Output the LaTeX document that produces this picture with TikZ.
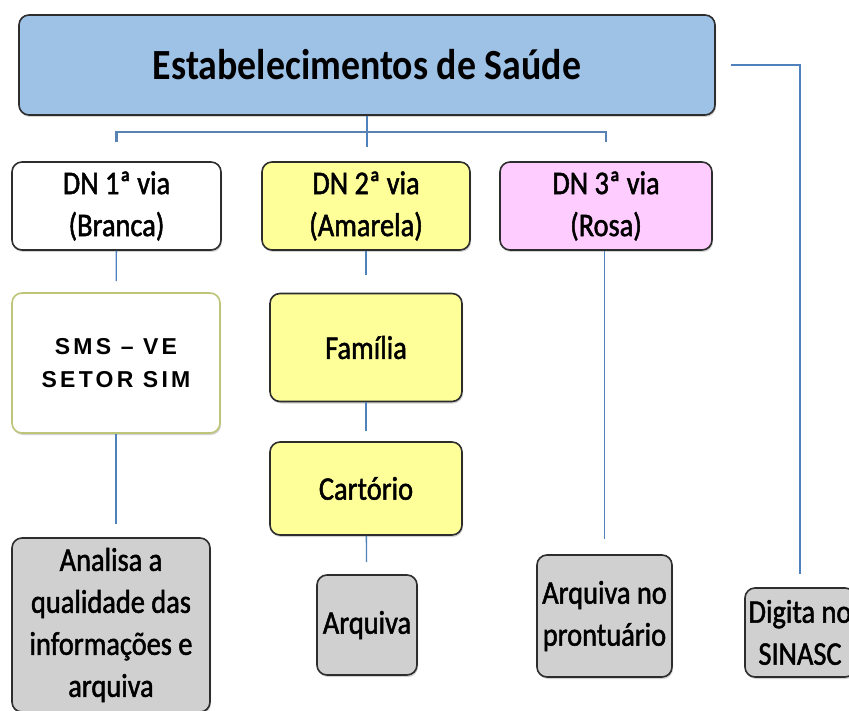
\documentclass[tikz,border=0pt]{standalone}
\usepackage{fontspec}
\setmainfont[FakeStretch=0.88]{Carlito}
\newfontfamily\boxfont[FakeStretch=0.86, FakeBold=1.5]{Carlito}
\newfontfamily\smsfont[LetterSpace=14]{Liberation Sans}
\usepackage{xcolor}
\definecolor{boxBlue}{RGB}{158,193,230}
\definecolor{boxYellow}{RGB}{255,255,153}
\definecolor{boxPink}{RGB}{255,204,255}
\definecolor{boxGray}{RGB}{208,208,208}
\definecolor{boxBorder}{RGB}{45,45,45}
\definecolor{smsBorder}{RGB}{190,196,120}
\definecolor{linkBlue}{RGB}{79,129,189}
\usetikzlibrary{shadows}
\tikzstyle{box} = [draw=boxBorder, line width=1.6pt, rounded corners=10pt, align=center,
        inner sep=2pt, drop shadow={shadow xshift=1pt, shadow yshift=-2pt, opacity=0.35}]
\tikzstyle{via} = [box, minimum width=209pt, minimum height=88pt, font={\boxfont\fontsize{33}{42}\selectfont}]
\tikzstyle{task} = [box, fill=boxYellow, minimum width=192pt, font={\boxfont\fontsize{33}{42}\selectfont}]
\tikzstyle{result} = [box, fill=boxGray, font={\boxfont\fontsize{33}{42}\selectfont}]
\tikzstyle{link} = [draw=linkBlue, line width=1.3pt, shorten >=12pt]
\tikzstyle{bracket} = [draw=linkBlue!80!gray, line width=2.4pt]

\begin{document}
\begin{tikzpicture}[x=1pt, y=-1pt]
    \useasboundingbox (0,0) rectangle (849,711);
    \path (0,0)
        +(367,65) node [box, fill=boxBlue, minimum width=696pt, minimum height=100pt,
            font={\fontsize{43}{50}\selectfont\bfseries}] (top) {Estabelecimentos de Saúde}
        +(116.5,206) node [via, fill=white] (dn1) {DN 1ª via\\(Branca)}
        +(366,206) node [via, fill=boxYellow, minimum width=208pt] (dn2) {DN 2ª via\\(Amarela)}
        +(606,206) node [via, fill=boxPink, minimum width=212pt] (dn3) {DN 3ª via\\(Rosa)}
        +(116,363) node [box, fill=white, draw=smsBorder, minimum width=208pt, minimum height=140pt,
            font={\smsfont\bfseries\fontsize{23}{33}\selectfont}] (sms) {SMS – VE\\SETOR SIM}
        +(366,347.5) node [task, minimum height=108pt] (fam) {Família}
        +(366,488.5) node [task, minimum height=93pt] (cart) {Cartório}
        +(111,625) node [result, minimum width=198pt, minimum height=174pt] (ana)
            {Analisa a\\qualidade das\\informações e\\arquiva}
        +(367,625) node [result, minimum width=100pt, minimum height=100pt, inner sep=0pt] (arq) {Arquiva}
        +(604.5,616) node [result, minimum width=135pt, minimum height=122pt, inner sep=0pt] (pront)
            {Arquiva no\\prontuário}
        +(800,632.5) node [result, minimum width=110pt, minimum height=89pt, inner sep=0pt] (dig)
            {Digita no\\SINASC};

    % top box to the three copies
    \draw [link, shorten >=0pt] (top.south) -- ([yshift=-31pt]top.south);
    \draw [bracket] ([yshift=19pt]dn1.north) |- ([yshift=29pt]dn3.north) -- ([yshift=19pt]dn3.north);
    \draw [link, shorten >=13pt] ([xshift=15pt]top.east) -| (dig.north);

    \draw [link, shorten >=11pt] (dn1) -- (sms);
    \draw [link, shorten >=13pt] (sms.south) -- (sms.south |- ana.north);
    \draw [link, shorten >=18pt] (dn2) -- (fam);
    \draw [link, shorten >=10pt] (fam) -- (cart);
    \draw [link] (cart) -- (arq);
    \draw [link, shorten >=15pt] (pront.north |- dn3.south) -- (pront.north);
\end{tikzpicture}
\end{document}
